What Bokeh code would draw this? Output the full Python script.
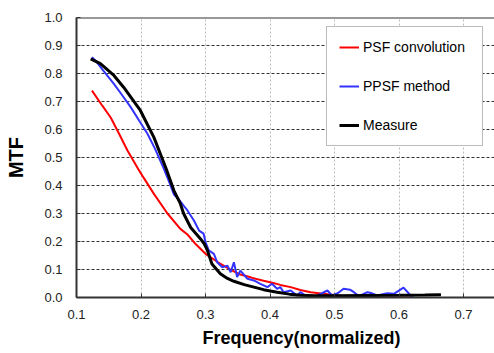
from bokeh.plotting import figure
from bokeh.models import (Range1d, FixedTicker, NumeralTickFormatter, Legend, LegendItem,
                          Span, Title)
from bokeh.embed import file_html
from bokeh.resources import INLINE

# PSF convolution (red)
psf_x = [0.124, 0.14, 0.153, 0.166, 0.179, 0.197, 0.204, 0.22, 0.241, 0.261, 0.272, 0.285,
         0.300, 0.32, 0.34, 0.354, 0.37, 0.3775, 0.39, 0.405, 0.416, 0.432, 0.447, 0.463,
         0.489, 0.51, 0.54, 0.57, 0.60, 0.621]
psf_y = [0.739, 0.685, 0.643, 0.585, 0.525, 0.454, 0.428, 0.37, 0.30, 0.245, 0.225, 0.19,
         0.156, 0.125, 0.098, 0.082, 0.072, 0.067, 0.06, 0.052, 0.045, 0.037, 0.027, 0.019,
         0.012, 0.006, 0.002, 0.0, 0.0, 0.0]

# PPSF method (blue)
ppsf_x = [0.124, 0.13, 0.14, 0.158, 0.17, 0.184, 0.197, 0.21, 0.222, 0.235, 0.245, 0.251,
          0.258, 0.266, 0.272, 0.282, 0.290, 0.297, 0.300, 0.305, 0.313, 0.318, 0.326, 0.334,
          0.339, 0.344, 0.349, 0.354, 0.365, 0.375, 0.385, 0.396, 0.403, 0.411, 0.416, 0.421,
          0.432, 0.442, 0.447, 0.458, 0.47, 0.489, 0.496, 0.505, 0.514, 0.524, 0.53, 0.538,
          0.551, 0.558, 0.566, 0.582, 0.592, 0.607, 0.618, 0.622]
ppsf_y = [0.858, 0.845, 0.815, 0.763, 0.725, 0.68, 0.632, 0.585, 0.53, 0.462, 0.405, 0.368,
          0.352, 0.328, 0.311, 0.275, 0.239, 0.228, 0.198, 0.168, 0.156, 0.126, 0.108, 0.114,
          0.090, 0.126, 0.073, 0.096, 0.067, 0.061, 0.049, 0.037, 0.049, 0.031, 0.037, 0.019,
          0.025, 0.007, 0.019, 0.002, 0.003, 0.025, 0.007, 0.015, 0.031, 0.028, 0.019, 0.005,
          0.019, 0.015, 0.007, 0.015, 0.013, 0.035, 0.007, 0.0]

# Measure (black)
meas_x = [0.122, 0.137, 0.158, 0.173, 0.199, 0.22, 0.239, 0.251, 0.261, 0.266, 0.277, 0.292,
          0.298, 0.303, 0.310, 0.323, 0.334, 0.344, 0.36, 0.375, 0.39, 0.411, 0.43, 0.447,
          0.47, 0.50, 0.55, 0.60, 0.64, 0.665]
meas_y = [0.852, 0.835, 0.793, 0.751, 0.668, 0.572, 0.46, 0.382, 0.335, 0.30, 0.25, 0.21,
          0.192, 0.168, 0.12, 0.085, 0.068, 0.058, 0.046, 0.037, 0.028, 0.019, 0.012, 0.008,
          0.006, 0.006, 0.007, 0.008, 0.009, 0.01]

x_ticks = [0.1, 0.2, 0.3, 0.4, 0.5, 0.6, 0.7]
y_ticks = [0.0, 0.1, 0.2, 0.3, 0.4, 0.5, 0.6, 0.7, 0.8, 0.9, 1.0]
series_names = ["PSF convolution", "PPSF method", "Measure"]

FONT = "Liberation Sans"

p = figure(width=494, height=353, output_backend="svg", toolbar_location=None,
           x_range=Range1d(0.1, 0.748), y_range=Range1d(0.0, 1.0),
           min_border_left=76, min_border_right=0, min_border_top=17, min_border_bottom=56)
p.outline_line_color = None
p.background_fill_color = "white"
p.border_fill_color = "white"

r1 = p.line(psf_x, psf_y, line_color="#ff0000", line_width=2)
r2 = p.line(ppsf_x, ppsf_y, line_color="#3333ff", line_width=2)
r3 = p.line(meas_x, meas_y, line_color="#000000", line_width=3)

for ax in (p.xaxis[0], p.yaxis[0]):
    ax.axis_line_color = "#333333"
    ax.axis_line_width = 2
    ax.major_tick_in = 4
    ax.major_tick_out = 0
    ax.minor_tick_in = 0
    ax.minor_tick_out = 0
    ax.major_tick_line_color = "#333333"
    ax.major_label_text_font = FONT
    ax.major_label_text_font_size = "13px"
    ax.major_label_text_color = "#222222"
    ax.formatter = NumeralTickFormatter(format="0.0")

p.xaxis[0].ticker = FixedTicker(ticks=x_ticks)
p.yaxis[0].ticker = FixedTicker(ticks=y_ticks)
p.xaxis[0].major_label_standoff = 12
p.yaxis[0].major_label_standoff = 14

p.yaxis[0].axis_label = "MTF"
p.yaxis[0].axis_label_text_font = FONT
p.yaxis[0].axis_label_text_font_size = "20px"
p.yaxis[0].axis_label_text_font_style = "bold"
p.yaxis[0].axis_label_text_color = "black"
p.yaxis[0].axis_label_standoff = 14

p.add_layout(Title(text="Frequency(normalized)", align="left", offset=126,
                   text_font=FONT, text_font_size="18px", text_font_style="bold",
                   text_color="black", standoff=8), "below")

p.xgrid.grid_line_color = "#bbbbbb"
p.xgrid.grid_line_dash = "2 2"
p.xgrid.grid_line_width = 1
p.ygrid.grid_line_color = "#333333"
p.ygrid.grid_line_dash = "3 2"
p.ygrid.grid_line_width = 1

p.add_layout(Span(location=1.0, dimension="width", line_color="#333333", line_width=2))

legend = Legend(items=[LegendItem(label=series_names[0], renderers=[r1]),
                       LegendItem(label=series_names[1], renderers=[r2]),
                       LegendItem(label=series_names[2], renderers=[r3])],
                location=(250, 151), margin=0, padding=12, spacing=23,
                label_height=16, glyph_height=16, glyph_width=20, label_standoff=4,
                label_width=107, label_text_font=FONT, label_text_font_size="14px",
                label_text_color="black", border_line_color="#777777", border_line_width=1,
                background_fill_color="white", background_fill_alpha=1.0)
p.add_layout(legend, "center")

open("out.html", "w").write(file_html(p, INLINE))
